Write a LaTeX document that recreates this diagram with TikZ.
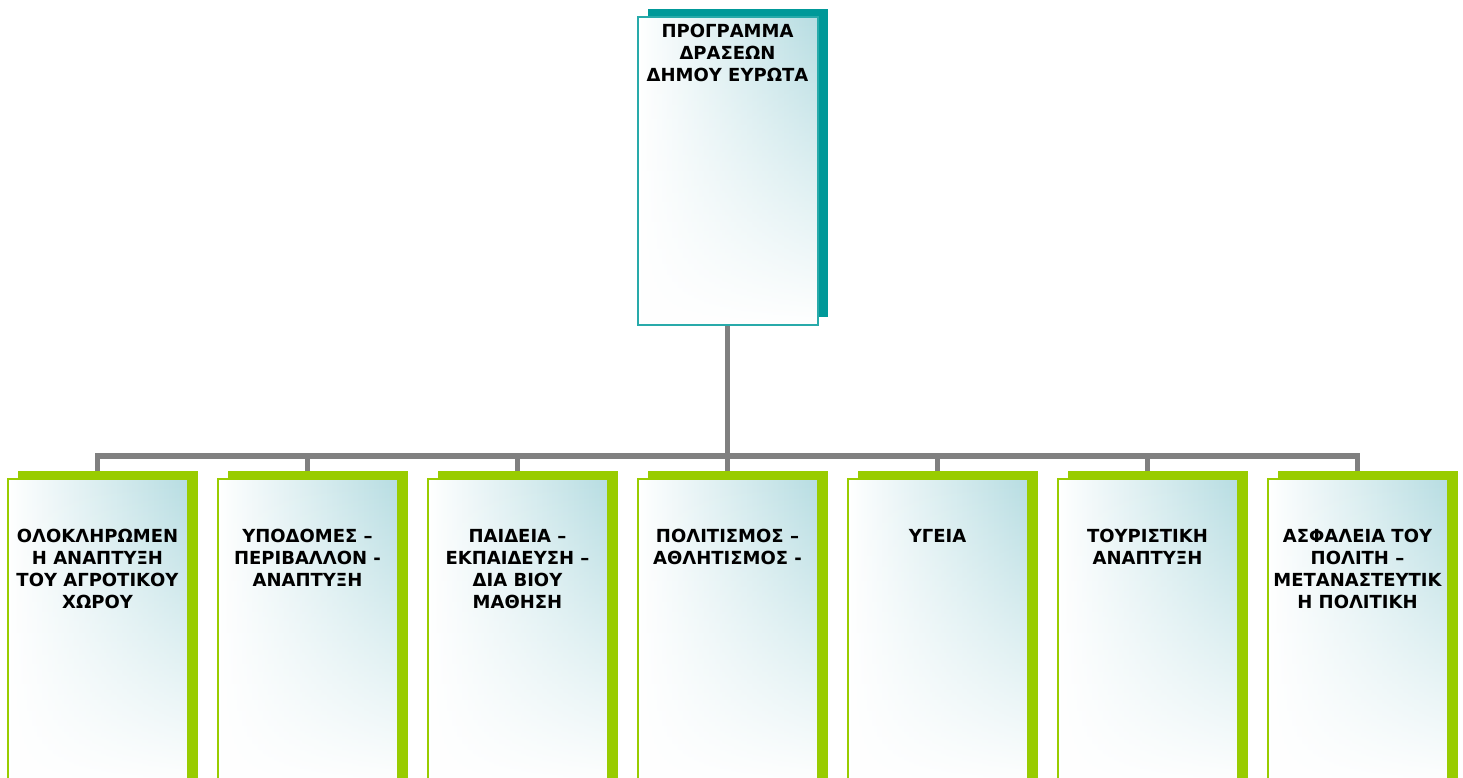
\documentclass[tikz,border=0pt]{standalone}
\usepackage{fontspec}
\setmainfont{DejaVu Sans}
\usetikzlibrary{positioning,shadows,fadings,backgrounds}

\definecolor{shadeteal}{RGB}{0,153,153}
\definecolor{edgeteal}{RGB}{40,170,170}
\definecolor{shadegreen}{RGB}{153,204,0}
\definecolor{boxblue}{RGB}{183,221,226}
\definecolor{linkgray}{RGB}{128,128,128}

\tikzset{
  card/.style={line width=2pt, minimum width=180pt, minimum height=308pt, inner sep=0pt,
    left color=white, right color=boxblue,
    path picture={\fill[white, path fading=north] (path picture bounding box.south west) rectangle (path picture bounding box.north east);}},
  headcard/.style={card, draw=edgeteal, general shadow={shadow xshift=10pt, shadow yshift=8pt, fill=shadeteal}},
  areacard/.style={card, draw=shadegreen, general shadow={shadow xshift=10pt, shadow yshift=8pt, fill=shadegreen}},
  cardtext/.style={font=\bfseries\fontsize{18}{22}\selectfont, align=center, inner sep=0pt},
  link/.style={draw=linkgray, line width=5.5pt}
}

\begin{document}
\begin{tikzpicture}[x=1pt, y=1pt]
    \useasboundingbox (0,0) rectangle (1463,778);

    % programme
    \node [headcard] (prog) at (727.5,607) {};
    \node [cardtext, below=8pt of prog.north] (progtxt) {ΠΡΟΓΡΑΜΜΑ\\ΔΡΑΣΕΩΝ\\ΔΗΜΟΥ ΕΥΡΩΤΑ};

    % action areas
    \node [areacard] (a1) at (97.5,145) {};
    \node [cardtext, below=51pt of a1.north] (a1txt) {ΟΛΟΚΛΗΡΩΜΕΝ\\Η ΑΝΑΠΤΥΞΗ\\ΤΟΥ ΑΓΡΟΤΙΚΟΥ\\ΧΩΡΟΥ};
    \node [areacard] (a2) at (307.5,145) {};
    \node [cardtext, below=51pt of a2.north] (a2txt) {ΥΠΟΔΟΜΕΣ –\\ΠΕΡΙΒΑΛΛΟΝ -\\ΑΝΑΠΤΥΞΗ};
    \node [areacard] (a3) at (517.5,145) {};
    \node [cardtext, below=51pt of a3.north] (a3txt) {ΠΑΙΔΕΙΑ –\\ΕΚΠΑΙΔΕΥΣΗ –\\ΔΙΑ ΒΙΟΥ\\ΜΑΘΗΣΗ};
    \node [areacard] (a4) at (727.5,145) {};
    \node [cardtext, below=51pt of a4.north] (a4txt) {ΠΟΛΙΤΙΣΜΟΣ –\\ΑΘΛΗΤΙΣΜΟΣ -};
    \node [areacard] (a5) at (937.5,145) {};
    \node [cardtext, below=51pt of a5.north] (a5txt) {ΥΓΕΙΑ};
    \node [areacard] (a6) at (1147.5,145) {};
    \node [cardtext, below=51pt of a6.north] (a6txt) {ΤΟΥΡΙΣΤΙΚΗ\\ΑΝΑΠΤΥΞΗ};
    \node [areacard] (a7) at (1357.5,145) {};
    \node [cardtext, below=51pt of a7.north] (a7txt) {ΑΣΦΑΛΕΙΑ ΤΟΥ\\ΠΟΛΙΤΗ –\\ΜΕΤΑΝΑΣΤΕΥΤΙΚ\\Η ΠΟΛΙΤΙΚΗ};

    % links
    \begin{scope}[on background layer]
        \coordinate [yshift=-130pt] (hub) at (prog.south);
        \draw [link] (prog.south) -- (hub);
        \foreach \i in {1,...,7}
            \draw [link] (hub) -| (a\i.north);
    \end{scope}

\end{tikzpicture}
\end{document}
